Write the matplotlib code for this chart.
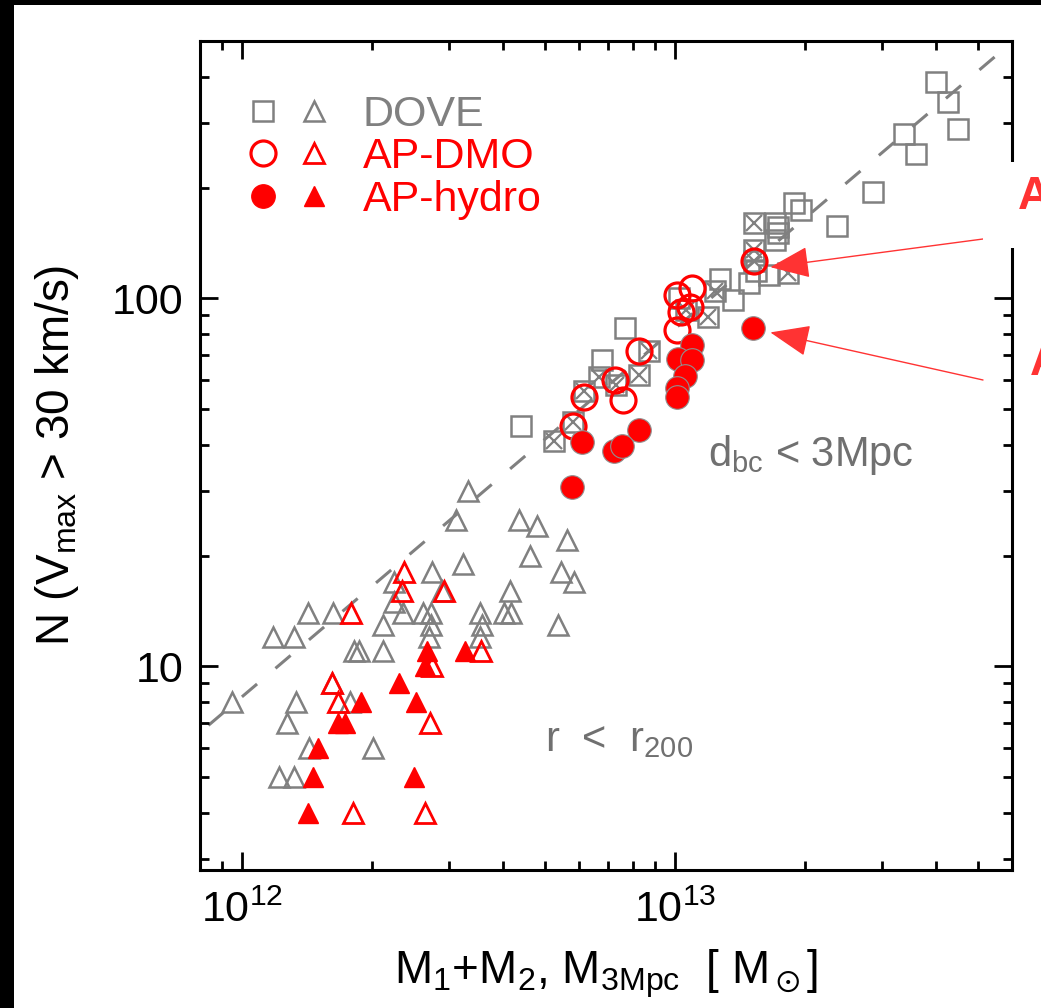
import matplotlib
matplotlib.use("Agg")
import matplotlib.pyplot as plt
from matplotlib.patches import Rectangle
from matplotlib.legend_handler import HandlerTuple

plt.rcParams['font.family'] = ['Liberation Sans', 'DejaVu Sans']
plt.rcParams['mathtext.fontset'] = 'custom'
plt.rcParams['mathtext.rm'] = 'Liberation Sans'
plt.rcParams['mathtext.it'] = 'Liberation Sans:italic'
plt.rcParams['mathtext.bf'] = 'Liberation Sans:bold'
plt.rcParams['mathtext.default'] = 'regular'

GRAY = '#808080'
RED = '#ff0000'
ARED = '#ff3333'

# DOVE pairs (open squares), M1+M2 vs N
dove_sq_m = [4.01e13, 4.26e13, 4.50e13, 3.38e13, 3.61e13, 2.86e13, 1.88e13, 1.95e13,
             2.36e13, 1.70e13, 1.73e13, 1.73e13, 1.70e13, 1.54e13, 1.65e13, 1.48e13,
             1.27e13, 1.36e13, 1.02e13, 7.66e12, 6.80e12, 4.42e12]
dove_sq_n = [386, 341, 288, 280, 247, 195, 182, 174,
             157, 160, 156, 150, 144, 119, 116, 110,
             113, 99, 100, 83, 68, 45]
# DOVE pairs drawn as crossed squares
dove_x_m = [1.52e13, 1.52e13, 1.82e13, 1.24e13, 1.19e13, 8.71e12, 8.24e12, 6.67e12,
            6.15e12, 5.82e12, 5.25e12, 1.52e13, 1.06e13, 7.30e12]
dove_x_n = [160, 135, 117, 105, 89, 72, 62, 61,
            56, 46, 41, 126, 93, 58]

# DOVE r < r200 (open gray triangles)
dove_tri_m = [3.33e12, 3.12e12, 4.36e12, 4.81e12, 5.62e12, 4.62e12, 3.24e12, 2.75e12,
              5.45e12, 5.85e12, 2.24e12, 4.15e12, 2.90e12, 2.24e12, 1.42e12, 1.62e12,
              2.35e12, 2.62e12, 2.73e12, 3.54e12, 4.03e12, 4.17e12, 2.12e12, 2.73e12,
              3.59e12, 5.38e12, 1.18e12, 1.32e12, 2.71e12, 3.54e12, 1.81e12, 1.86e12,
              2.12e12, 1.61e12, 0.95e12, 1.33e12, 1.78e12, 1.27e12, 1.43e12, 2.01e12,
              1.22e12, 1.32e12]
dove_tri_n = [30, 25, 25, 24, 22, 20, 19, 18,
              18, 17, 17, 16, 16, 15, 14, 14,
              14, 14, 14, 14, 14, 14, 13, 13,
              13, 13, 12, 12, 12, 12, 11, 11,
              11, 9, 8, 8, 8, 7, 6, 6,
              5, 5]

# AP-DMO
dmo_circ_m = [1.52e13, 1.095e13, 1.01e13, 1.085e13, 1.03e13, 1.01e13, 8.24e12, 7.28e12,
              7.59e12, 6.17e12, 5.82e12]
dmo_circ_n = [126, 107, 102, 95, 92, 82, 72, 60, 53, 54, 45]
dmo_tri_m = [2.37e12, 2.34e12, 2.93e12, 1.79e12, 3.56e12, 1.61e12, 2.75e12, 1.67e12,
             2.72e12, 1.80e12, 2.65e12]
dmo_tri_n = [18, 16, 16, 14, 11, 9, 10, 8, 7, 4, 4]

# AP-hydro
hyd_circ_m = [1.515e13, 1.095e13, 1.014e13, 1.095e13, 1.056e13, 1.01e13, 1.01e13, 8.26e12,
              6.11e12, 7.23e12, 7.55e12, 5.79e12]
hyd_circ_n = [83, 74.5, 68.5, 67.8, 61.7, 57, 54, 44, 40.6, 38.5, 39.8, 30.7]
hyd_tri_m = [2.68e12, 3.27e12, 2.65e12, 2.30e12, 1.88e12, 2.52e12, 1.67e12, 1.73e12,
             1.50e12, 1.46e12, 2.50e12, 1.42e12]
hyd_tri_n = [11, 11, 10, 9, 8, 8, 7, 7, 6, 5, 5, 4]

# reference N proportional to M
line_m = [7.0e11, 7.0e13]
line_n = [5.79, 579]

fig = plt.figure(figsize=(10.41, 10.08), dpi=100)
ax = fig.add_axes([200/1041, 1-870/1008, 812/1041, 829/1008])
ax.set_xscale('log')
ax.set_yscale('log')
ax.set_xlim(8.0e11, 6.0e13)
ax.set_ylim(2.8, 500)

ax.plot(line_m, line_n, color=GRAY, lw=2.2, ls=(0, (6.5, 7.9)), zorder=1)

ax.plot(dove_tri_m, dove_tri_n, ls='none', marker='^', ms=14, mfc='none', mec=GRAY, mew=1.8, zorder=2)
ax.plot(dmo_tri_m, dmo_tri_n, ls='none', marker='^', ms=14, mfc='none', mec=RED, mew=2.0, zorder=3)
ax.plot(hyd_tri_m, hyd_tri_n, ls='none', marker='^', ms=14, mfc=RED, mec=RED, mew=1.0, zorder=4)

ax.plot(dove_sq_m, dove_sq_n, ls='none', marker='s', ms=14.5, mfc='none', mec=GRAY, mew=1.8, zorder=2)
ax.plot(dove_x_m, dove_x_n, ls='none', marker='s', ms=14.5, mfc='none', mec=GRAY, mew=1.8, zorder=2)
ax.plot(dove_x_m, dove_x_n, ls='none', marker='x', ms=11, mec=GRAY, mew=1.6, zorder=2)
ax.plot(dmo_circ_m, dmo_circ_n, ls='none', marker='o', ms=18, mfc='none', mec=RED, mew=2.3, zorder=5)
ax.plot(hyd_circ_m, hyd_circ_n, ls='none', marker='o', ms=17, mfc=RED, mec='#909090', mew=0.8, zorder=6)

# legend
h_sq, = ax.plot([], [], ls='none', marker='s', ms=14.5, mfc='none', mec=GRAY, mew=1.8)
h_gt, = ax.plot([], [], ls='none', marker='^', ms=15, mfc='none', mec=GRAY, mew=1.8)
h_oc, = ax.plot([], [], ls='none', marker='o', ms=18, mfc='none', mec=RED, mew=2.3)
h_ot, = ax.plot([], [], ls='none', marker='^', ms=15, mfc='none', mec=RED, mew=2.0)
h_fc, = ax.plot([], [], ls='none', marker='o', ms=17, mfc=RED, mec=RED, mew=0.8)
h_ft, = ax.plot([], [], ls='none', marker='^', ms=15, mfc=RED, mec=RED, mew=1.0)
leg = ax.legend([(h_sq, h_gt), (h_oc, h_ot), (h_fc, h_ft)], ['DOVE', 'AP-DMO', 'AP-hydro'],
                handler_map={tuple: HandlerTuple(ndivide=None, pad=0.74)},
                loc='upper left', bbox_to_anchor=(0.066, 0.935), frameon=False,
                fontsize=31, handlelength=1.63, handletextpad=0.9, labelspacing=0.06,
                borderpad=0, borderaxespad=0)
for t, c in zip(leg.get_texts(), [GRAY, RED, RED]):
    t.set_color(c)

ax.text(0.6256, 0.5006, 'd$_{bc}$ < 3Mpc', transform=ax.transAxes, color='#707070',
        fontsize=30, ha='left', va='center')
ax.text(0.425, 0.157, 'r  <  r$_{200}$', transform=ax.transAxes, color='#707070',
        fontsize=30, ha='left', va='center')

ax.set_xticks([1e12, 1e13])
ax.set_xticklabels(['$10^{12}$', '$10^{13}$'])
ax.set_yticks([10, 100])
ax.set_yticklabels(['10', '100'])
ax.tick_params(which='both', direction='in', top=True, right=True, labelsize=31, width=2)
ax.tick_params(which='major', length=12.7, pad=12)
ax.tick_params(axis='x', which='major', pad=15)
ax.tick_params(which='minor', length=6.3)
for s in ax.spines.values():
    s.set_linewidth(2.2)

ax.set_xlabel(r'M$_1$+M$_2$, M$_{3Mpc}$  [ M$_\odot$]', fontsize=33, labelpad=12)
ax.set_ylabel('N (V$_{max}$ > 30 km/s)', fontsize=33, labelpad=22)

# annotation boxes and arrows at the right edge
fig.patches.append(Rectangle((983/1041, 1-248/1008), 1, 86/1008, transform=fig.transFigure,
                             facecolor='white', edgecolor='none', zorder=5))
ap = dict(arrowstyle='-|>,head_length=1.25,head_width=0.5', color=ARED, lw=1.0,
          mutation_scale=20, shrinkA=0, shrinkB=0)
ax.annotate('', xy=(1.66e13, 121.5), xycoords='data', xytext=(983/1041, 1-239/1008),
            textcoords='figure fraction', arrowprops=ap, annotation_clip=False, zorder=7)
ax.annotate('', xy=(1.66e13, 80.8), xycoords='data', xytext=(983/1041, 1-380/1008),
            textcoords='figure fraction', arrowprops=ap, annotation_clip=False, zorder=7)
fig.text(1018/1041, 1-197/1008, 'A', color=ARED, fontsize=33, fontweight='bold',
         ha='left', va='center', zorder=8)
fig.text(1030/1041, 1-363/1008, 'A', color=ARED, fontsize=33, fontweight='bold',
         ha='left', va='center', zorder=8)

# black frame strips of the original screenshot
fig.patches.append(Rectangle((0, 1-5/1008), 1, 5/1008, transform=fig.transFigure,
                             facecolor='black', edgecolor='none', zorder=10))
fig.patches.append(Rectangle((0, 0), 14/1041, 1, transform=fig.transFigure,
                             facecolor='black', edgecolor='none', zorder=10))

fig.savefig('out.png', dpi=100)
